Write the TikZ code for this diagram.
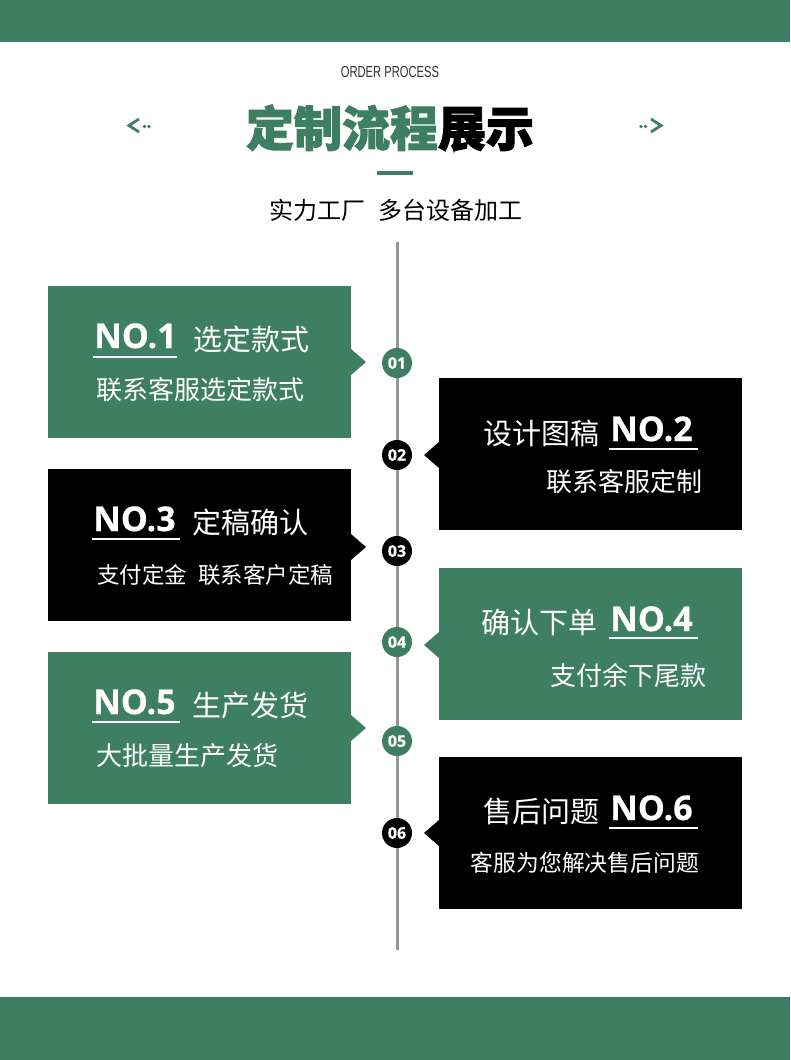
\documentclass[tikz,border=0pt]{standalone}
\usepackage{fontspec}
\setmainfont{Noto Sans CJK SC}
\newfontfamily\cjk{Noto Sans CJK SC}
\newfontfamily\cjktitle[BoldFeatures={FakeBold=2}]{Noto Sans CJK SC}
\newfontfamily\numfont[BoldFeatures={FakeBold=0.6}]{Open Sans}
\newfontfamily\orderfont[FakeStretch=0.7]{Liberation Sans}
\definecolor{gcol}{RGB}{62,126,98}
\definecolor{lineg}{RGB}{150,150,150}
\definecolor{dgray}{RGB}{50,50,50}
\tikzset{
  boxg/.style={fill=gcol, minimum width=303pt, minimum height=152pt, inner sep=0pt, anchor=north west},
  boxk/.style={fill=black, minimum width=303pt, minimum height=152pt, inner sep=0pt, anchor=north west},
  numtxt/.style={font=\numfont\bfseries\fontsize{34}{34}\selectfont, text=white, inner sep=0pt, anchor=base west},
  ttl/.style={font=\cjk\fontsize{29}{29}\selectfont, text=white, inner sep=0pt, anchor=base west},
  subl/.style={font=\cjk\fontsize{26}{26}\selectfont, text=white, inner sep=0pt, anchor=west},
  subr/.style={font=\cjk\fontsize{26}{26}\selectfont, text=white, inner sep=0pt, anchor=east},
  uline/.style={white, line width=2.5pt},
  circg/.style={circle, fill=gcol, minimum size=30pt, inner sep=0pt, text=white, font=\numfont\bfseries\fontsize{16}{16}\selectfont},
  circk/.style={circle, fill=black, minimum size=30pt, inner sep=0pt, text=white, font=\numfont\bfseries\fontsize{16}{16}\selectfont},
  vline/.style={lineg, line width=3pt},
  chev/.style={gcol, line width=2.8pt}
}
\begin{document}
\begin{tikzpicture}[x=1pt,y=-1pt]
\useasboundingbox (0,0) rectangle (790,1060);
\fill[white] (0,0) rectangle (790,1060);
% bands
\fill[gcol] (0,0) rectangle (790,42);
\fill[gcol] (0,997) rectangle (790,1060);
% header
\node[font=\orderfont\fontsize{16}{16}\selectfont, text=dgray, inner sep=0pt] (order) at (390,72) {ORDER PROCESS};
\node[font=\cjktitle\bfseries\fontsize{48}{48}\selectfont, inner sep=0pt] (title) at (390,128) {\textcolor{gcol}{定制流程}\textcolor{black}{展示}};
\draw[chev] (139,119) -- (129,125.5) -- (139,132);
\fill[gcol] (144.5,126.5) circle (1.8) (149,126.5) circle (1.8);
\draw[chev] (651,119) -- (661,125.5) -- (651,132);
\fill[gcol] (645.5,126.5) circle (1.8) (641,126.5) circle (1.8);
\fill[gcol] (377,171) rectangle (413,175);
\node[font=\cjk\fontsize{24}{24}\selectfont, text=black, inner sep=0pt] (subtitle) at (396,210) {实力工厂\hspace{0.55em}多台设备加工};
% timeline
\coordinate (ltop) at (397,242);
\coordinate (lbot) at (397,950);
\draw[vline] (ltop) -- (lbot);
% boxes
\node[boxg] (b1) at (48,286) {};
\node[boxk] (b2) at (439,378) {};
\node[boxk] (b3) at (48,469) {};
\node[boxg] (b4) at (439,568) {};
\node[boxg] (b5) at (48,652) {};
\node[boxk] (b6) at (439,757) {};
% pointers
\fill[gcol] (351,349) -- (366,362) -- (351,375) -- cycle;
\fill[black] (351,534) -- (366,547) -- (351,560) -- cycle;
\fill[gcol] (351,715) -- (366,728) -- (351,741) -- cycle;
\fill[black] (439,442) -- (424,455) -- (439,468) -- cycle;
\fill[gcol] (439,632) -- (424,645) -- (439,658) -- cycle;
\fill[black] (439,820) -- (424,833) -- (439,846) -- cycle;
% circles
\node[circg] (c1) at (397,363) {01};
\node[circk] (c2) at (397,455) {02};
\node[circk] (c3) at (397,551) {03};
\node[circg] (c4) at (397,642) {04};
\node[circg] (c5) at (397,741) {05};
\node[circk] (c6) at (397,833) {06};
% box 1
\node[numtxt] (n1) at (94,348) {NO.1};
\node[ttl] (t1) at (193,350) {选定款式};
\draw[uline] (93,357) -- (177,357);
\node[subl] (s1) at (96,390) {联系客服选定款式};
% box 2
\node[ttl] (t2) at (483,444) {设计图稿};
\node[numtxt] (n2) at (610,441) {NO.2};
\draw[uline] (609,449) -- (698,449);
\node[subr] (s2) at (703,482) {联系客服定制};
% box 3
\node[numtxt] (n3) at (93,531) {NO.3};
\node[ttl] (t3) at (192,533) {定稿确认};
\draw[uline] (92,539) -- (180,539);
\node[subl, font=\cjk\fontsize{22.5}{22.5}\selectfont] (s3) at (97,575) {支付定金\hspace{0.5em}联系客户定稿};
% box 4
\node[ttl] (t4) at (481,633) {确认下单};
\node[numtxt] (n4) at (610,631) {NO.4};
\draw[uline] (609,638) -- (698,638);
\node[subr] (s4) at (707,676) {支付余下尾款};
% box 5
\node[numtxt] (n5) at (93,714) {NO.5};
\node[ttl] (t5) at (192,716) {生产发货};
\draw[uline] (92,722) -- (180,722);
\node[subl] (s5) at (96,756) {大批量生产发货};
% box 6
\node[ttl] (t6) at (483,822) {售后问题};
\node[numtxt] (n6) at (610,820) {NO.6};
\draw[uline] (609,828) -- (698,828);
\node[subr, font=\cjk\fontsize{22.8}{22.8}\selectfont] (s6) at (699,863) {客服为您解决售后问题};
\end{tikzpicture}
\end{document}
